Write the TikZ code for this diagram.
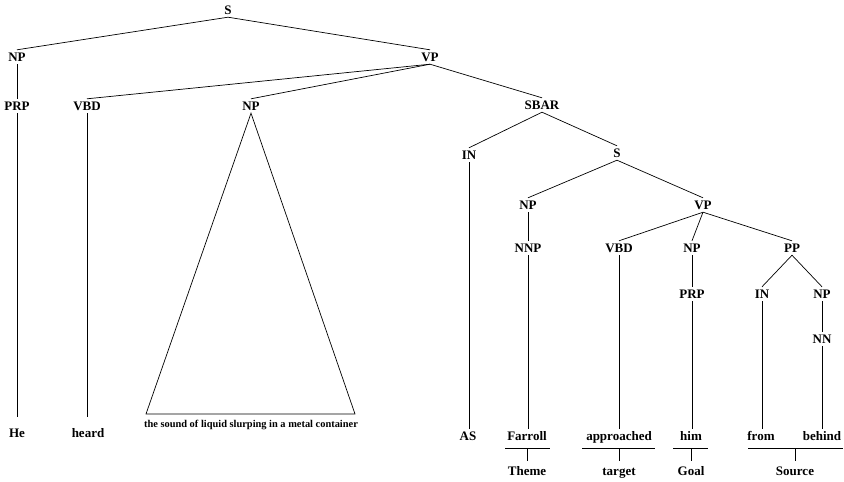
\documentclass[tikz,border=0pt]{standalone}
\usepackage{fontspec}
\setmainfont{Liberation Serif}
\begin{document}
\begin{tikzpicture}[x=1pt,y=-1pt,
  lbl/.style={font=\fontsize{13}{15}\selectfont\bfseries, inner xsep=1pt, inner ysep=2.5pt,
              text height=9pt, text depth=0pt, anchor=center},
  small/.style={font=\fontsize{10.4}{12}\selectfont\bfseries, inner sep=0pt, anchor=center},
  edge/.style={line width=0.7pt, black}]
\useasboundingbox (0,0) rectangle (844,482);

% phrase-structure labels
\node[lbl] (S0)   at (228,10)  {S};
\node[lbl] (NPa)  at (17,57)   {NP};
\node[lbl] (VPa)  at (430,57)  {VP};
\node[lbl] (PRPa) at (17,106)  {PRP};
\node[lbl] (VBDa) at (87,106)  {VBD};
\node[lbl] (NPb)  at (251,106) {NP};
\node[lbl] (SBAR) at (542,105) {SBAR};
\node[lbl] (INa)  at (469,155) {IN};
\node[lbl] (S1)   at (617,153) {S};
\node[lbl] (NPc)  at (528,205) {NP};
\node[lbl] (VPb)  at (703,205) {VP};
\node[lbl] (NNP)  at (528,248) {NNP};
\node[lbl] (VBDb) at (619,248) {VBD};
\node[lbl] (NPd)  at (692,248) {NP};
\node[lbl] (PP)   at (792,248) {PP};
\node[lbl] (PRPb) at (692,294) {PRP};
\node[lbl] (INb)  at (762,294) {IN};
\node[lbl] (NPe)  at (822,294) {NP};
\node[lbl] (NN)   at (822,339) {NN};

% words
\node[lbl] (He)    at (17,433)  {He};
\node[lbl] (heard) at (88,433)  {heard};
\node[small] (obj) at (251,425) {the sound of liquid slurping in a metal container};
\node[lbl] (AS)    at (468,436) {AS};
\node[lbl] (Farr)  at (527,436) {Farroll};
\node[lbl] (appr)  at (619,436) {approached};
\node[lbl] (him)   at (691,436) {him};
\node[lbl] (from)  at (761,436) {from};
\node[lbl] (behind) at (822,436) {behind};

% semantic roles
\node[lbl] (Theme)  at (527,471) {Theme};
\node[lbl] (target) at (619,471) {target};
\node[lbl] (Goal)   at (691,471) {Goal};
\node[lbl] (Source) at (795,471) {Source};

% branches
\draw[edge] (S0.south) -- (NPa.north);
\draw[edge] (S0.south) -- (VPa.north);
\draw[edge] (NPa.south) -- (PRPa.north);
\draw[edge] (VPa.south) -- (VBDa.north);
\draw[edge] (VPa.south) -- (NPb.north);
\draw[edge] (VPa.south) -- (SBAR.north);
\draw[edge] (SBAR.south) -- (INa.north);
\draw[edge] (SBAR.south) -- (S1.north);
\draw[edge] (S1.south) -- (NPc.north);
\draw[edge] (S1.south) -- (VPb.north);
\draw[edge] (NPc.south) -- (NNP.north);
\draw[edge] (VPb.south) -- (VBDb.north);
\draw[edge] (VPb.south) -- (NPd.north);
\draw[edge] (VPb.south) -- (PP.north);
\draw[edge] (NPd.south) -- (PRPb.north);
\draw[edge] (PP.south) -- (INb.north);
\draw[edge] (PP.south) -- (NPe.north);
\draw[edge] (NPe.south) -- (NN.north);

% lexical branches
\draw[edge, shorten >=9pt] (PRPa.south) -- (PRPa.south |- He.north);
\draw[edge, shorten >=9pt] (VBDa.south) -- (VBDa.south |- heard.north);
\draw[edge] (INa.south) -- (INa.south |- AS.north);
\draw[edge] (NNP.south) -- (NNP.south |- Farr.north);
\draw[edge] (VBDb.south) -- (VBDb.south |- appr.north);
\draw[edge] (PRPb.south) -- (PRPb.south |- him.north);
\draw[edge] (INb.south) -- (INb.south |- from.north);
\draw[edge] (NN.south) -- (NN.south |- behind.north);

% collapsed object NP
\coordinate (triL) at (146,414);
\coordinate (triR) at (355,414);
\draw[edge, line join=miter] (NPb.south) -- (triL) -- (triR) -- cycle;

% role brackets
\coordinate (thL) at (505,448); \coordinate (thR) at (550,448);
\coordinate (tgL) at (582,448); \coordinate (tgR) at (655,448);
\coordinate (goL) at (673,448); \coordinate (goR) at (708,448);
\coordinate (soL) at (748,448); \coordinate (soR) at (843,448);
\draw[edge] (thL) -- (thR);
\draw[edge] (tgL) -- (tgR);
\draw[edge] (goL) -- (goR);
\draw[edge] (soL) -- (soR);
\draw[edge, shorten >=3pt] (Theme.north |- thL) -- (Theme.north);
\draw[edge, shorten >=3pt] (target.north |- tgL) -- (target.north);
\draw[edge, shorten >=3pt] (Goal.north |- goL) -- (Goal.north);
\draw[edge, shorten >=3pt] (Source.north |- soL) -- (Source.north);
\end{tikzpicture}
\end{document}
